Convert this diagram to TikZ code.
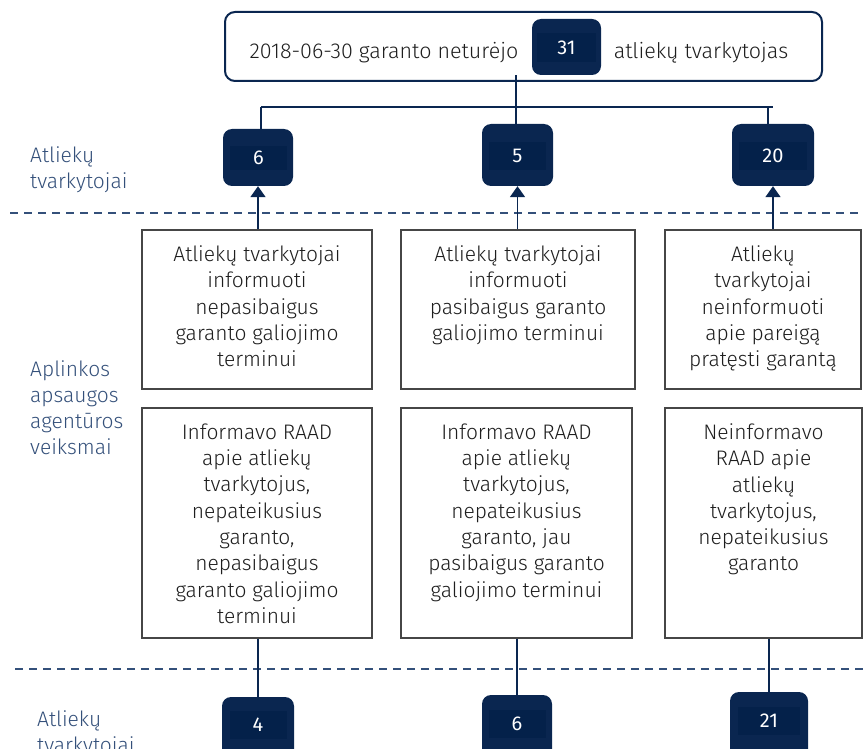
\documentclass[tikz,border=0pt]{standalone}
\usepackage{fontspec}
\setmainfont{Fira Sans Light}
\newfontfamily\numfont{Fira Sans}
\usetikzlibrary{arrows.meta}
\definecolor{navy}{HTML}{0A2650}
\definecolor{navyin}{HTML}{04214A}
\definecolor{side}{HTML}{34507A}
\definecolor{txt}{HTML}{1E1E1E}
\tikzset{
  wbox/.style={draw={rgb,255:red,70;green,70;blue,70}, line width=1.1pt, fill=white, inner sep=0pt},
  numbox/.style={fill=navy, rounded corners=9pt, inner sep=0pt},
  numtxt/.style={fill=navyin, text=white, inner sep=0pt, minimum width=57pt, minimum height=27pt, font=\numfont\fontsize{20}{22}\selectfont},
  btxt/.style={text=txt, align=center, anchor=north, inner sep=0pt, font=\fontsize{21}{26.3}\selectfont},
  sidetxt/.style={text=side, align=left, anchor=north west, inner sep=0pt, font=\fontsize{21}{26}\selectfont},
  conn/.style={draw=navy, line width=1.8pt},
  upconn/.style={draw=navy, line width=1.8pt, -{Triangle[width=15pt,length=11pt]}},
  downconn/.style={draw=navy, line width=1.5pt},
  sep/.style={draw=side, line width=1.6pt, dash pattern=on 8pt off 6pt},
}
\begin{document}
\begin{tikzpicture}[x=1pt,y=-1pt]
\useasboundingbox (0,0) rectangle (863,749);
% top box
\node[draw=navy, line width=2pt, rounded corners=10pt, minimum width=597pt, minimum height=69pt, inner sep=0pt] (top) at (523.5,46.5) {};
\node[text=txt, font=\fontsize{21.5}{24}\selectfont, inner sep=0pt, anchor=base] (tl) at (384,59) {2018-06-30 garanto neturėjo};
\node[text=txt, font=\fontsize{21.5}{24}\selectfont, inner sep=0pt, anchor=base] (tr) at (701,59) {atliekų tvarkytojas};
\node[numbox, minimum width=69pt, minimum height=56pt] (n31) at (566.5,47) {};
\node[numtxt, minimum width=59pt, minimum height=29pt] at (566.5,47.5) {31};
% top numbers
\node[numbox, minimum width=70pt, minimum height=57pt] (a1) at (258,157.5) {};
\node[numtxt, minimum height=24pt] at (258.5,158) {6};
\node[numbox, minimum width=71pt, minimum height=62pt] (a2) at (517.5,155) {};
\node[numtxt, minimum height=28pt] at (517.5,156) {5};
\node[numbox, minimum width=82pt, minimum height=62pt] (a3) at (773,155) {};
\node[numtxt, minimum width=68pt, minimum height=28pt] at (773,156) {20};
% connectors from top
\coordinate (j0) at (516,107);
\coordinate (jl) at (261,107);
\coordinate (jr) at (773,107);
\draw[conn] (n31.south -| j0) -- (j0);
\draw[conn] (jl) -- (jr);
\draw[conn] (jl) -- (a1.north -| jl);
\draw[conn] (j0) -- (a2.north -| j0);
\draw[conn] (768,107) -- (a3.north -| 768,0);
% separators
\draw[sep] (10,213) -- (863,213);
\draw[sep] (15,669) -- (863,669);
% side labels
\node[sidetxt] (s1) at (30,146) {Atliekų\\tvarkytojai};
\node[sidetxt] (s2) at (30,360) {Aplinkos\\apsaugos\\agentūros\\veiksmai};
\node[sidetxt] (s3) at (37,710) {Atliekų\\tvarkytojai};
% middle boxes
\node[wbox, minimum width=230pt, minimum height=159pt] (m1) at (257,309.5) {};
\node[wbox, minimum width=234pt, minimum height=159pt] (m2) at (518,309.5) {};
\node[wbox, minimum width=196pt, minimum height=159pt] (m3) at (763,309.5) {};
\node[btxt] at ([yshift=-16pt]m1.north) {Atliekų tvarkytojai\\informuoti\\nepasibaigus\\garanto galiojimo\\terminui};
\node[btxt] at ([yshift=-16pt]m2.north) {Atliekų tvarkytojai\\informuoti\\pasibaigus garanto\\galiojimo terminui};
\node[btxt] at ([yshift=-16pt]m3.north) {Atliekų\\tvarkytojai\\neinformuoti\\apie pareigą\\pratęsti garantą};
% lower boxes
\node[wbox, minimum width=230pt, minimum height=230pt] (l1) at (257,523) {};
\node[wbox, minimum width=231pt, minimum height=230pt] (l2) at (516.5,523) {};
\node[wbox, minimum width=197pt, minimum height=230pt] (l3) at (763.5,523) {};
\node[btxt] at ([yshift=-16pt]l1.north) {Informavo RAAD\\apie atliekų\\tvarkytojus,\\nepateikusius\\garanto,\\nepasibaigus\\garanto galiojimo\\terminui};
\node[btxt] at ([yshift=-16pt]l2.north) {Informavo RAAD\\apie atliekų\\tvarkytojus,\\nepateikusius\\garanto, jau\\pasibaigus garanto\\galiojimo terminui};
\node[btxt] at ([yshift=-16pt]l3.north) {Neinformavo\\RAAD apie\\atliekų\\tvarkytojus,\\nepateikusius\\garanto};
% up arrows
\draw[upconn] (m1.north -| a1) -- (a1.south);
\draw[upconn] (m2.north -| a2) -- (a2.south);
\draw[upconn] (m3.north -| 773,0) -- (a3.south);
% bottom numbers
\node[numbox, minimum width=72pt, minimum height=70pt] (b1) at (258,732) {};
\node[numtxt, minimum height=28pt] at (258,725) {4};
\node[numbox, minimum width=70pt, minimum height=70pt] (b2) at (517,730) {};
\node[numtxt, minimum height=28pt] at (517,724) {6};
\node[numbox, minimum width=78pt, minimum height=74pt] (b3) at (769,729) {};
\node[numtxt, minimum width=62pt, minimum height=28pt] at (769,721) {21};
% down connectors
\draw[downconn] (l1.south -| b1) -- (b1.north);
\draw[downconn] (l2.south -| b2) -- (b2.north);
\draw[downconn] (l3.south -| b3) -- (b3.north);
\end{tikzpicture}
\end{document}
